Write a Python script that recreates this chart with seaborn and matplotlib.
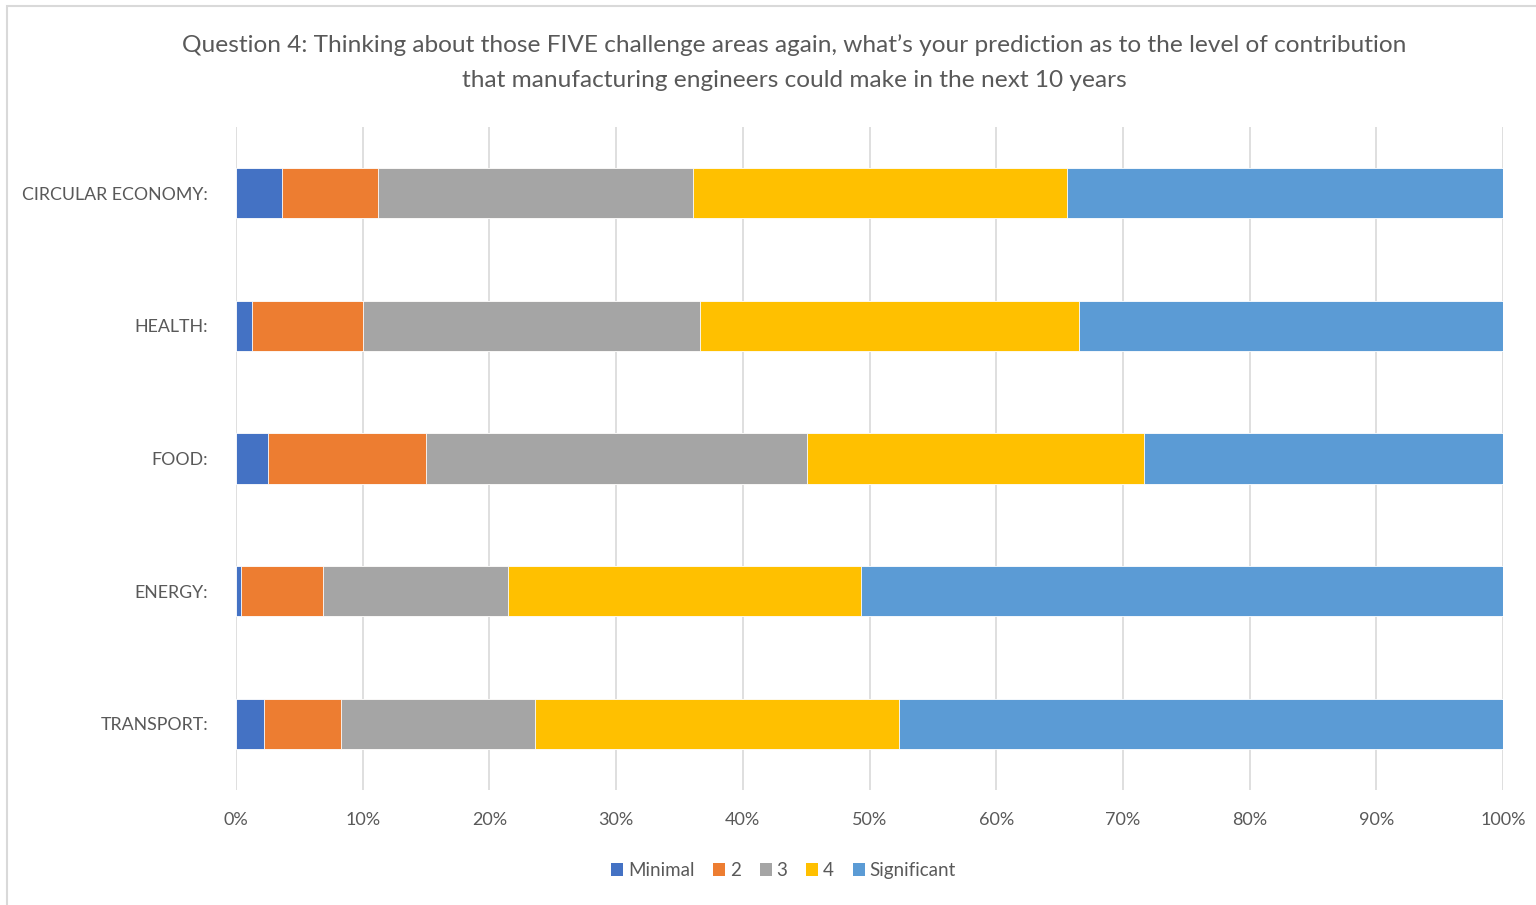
import matplotlib
matplotlib.use("Agg")
import matplotlib.pyplot as plt
from matplotlib.patches import Patch, Rectangle
from matplotlib.ticker import PercentFormatter, MultipleLocator
import numpy as np
import pandas as pd
import seaborn as sns

# Share of responses (%) per challenge area, by predicted contribution level
categories = ["CIRCULAR ECONOMY:", "HEALTH:", "FOOD:", "ENERGY:", "TRANSPORT:"]
levels = ["Minimal", "2", "3", "4", "Significant"]
minimal = [3.6, 1.3, 2.5, 0.4, 2.2]
level_2 = [7.6, 8.7, 12.5, 6.5, 6.1]
level_3 = [24.9, 26.6, 30.1, 14.6, 15.3]
level_4 = [29.5, 29.9, 26.6, 27.8, 28.7]
significant = [34.4, 33.5, 28.3, 50.7, 47.7]
colors = ["#4472C4", "#ED7D31", "#A5A5A5", "#FFC000", "#5B9BD5"]

title = ("Question 4: Thinking about those FIVE challenge areas again, what\u2019s your prediction as to the level of contribution\n"
         "that manufacturing engineers could make in the next 10 years")

sns.set_theme(style="white")
plt.rcParams["font.family"] = ["Lato", "DejaVu Sans"]
text_color = "#595959"

df = pd.DataFrame({"category": categories, "Minimal": minimal, "2": level_2,
                   "3": level_3, "4": level_4, "Significant": significant})
cum = df[levels].cumsum(axis=1)

fig = plt.figure(figsize=(15.36, 9.05), dpi=100)
ax = fig.add_axes([236 / 1536, 1 - 790 / 905, (1503 - 236) / 1536, (790 - 127) / 905])

# Stacked bars: draw cumulative totals from the widest down so each segment shows
for lvl, col in reversed(list(zip(levels, colors))):
    sns.barplot(data=cum.assign(category=categories), x=lvl, y="category",
                orient="h", color=col, width=0.38, saturation=1,
                edgecolor="white", linewidth=0.6, ax=ax, zorder=3)

ax.set_xlim(0, 100)
ax.set_ylim(4.5, -0.5)
ax.xaxis.set_major_locator(MultipleLocator(10))
ax.xaxis.set_major_formatter(PercentFormatter(decimals=0))
ax.grid(axis="x", color="#D9D9D9", linewidth=1.2, zorder=0)
ax.grid(axis="y", visible=False)
for s in ax.spines.values():
    s.set_visible(False)
ax.set_xlabel("")
ax.set_ylabel("")
ax.tick_params(axis="x", colors=text_color, labelsize=13, length=0, pad=16)
ax.tick_params(axis="y", colors=text_color, labelsize=12.8, length=0, pad=20)

fig.text(0.517, 0.962, title, ha="center", va="top", fontsize=17.6,
         color=text_color, linespacing=1.8)

handles = [Patch(facecolor=c, edgecolor="none", label=l) for l, c in zip(levels, colors)]
fig.legend(handles=handles, loc="center", bbox_to_anchor=(0.51, 0.038), ncol=5,
           frameon=False, fontsize=13.5, handlelength=0.65, handleheight=0.65,
           handletextpad=0.25, columnspacing=1.0, labelcolor=text_color)

# Outer chart frame
fig.patches.append(Rectangle((7 / 1536, -0.1), 1.2, 1.1 - 6 / 905, transform=fig.transFigure,
                             fill=False, edgecolor="#D9D9D9", linewidth=1.5))

fig.savefig("out.png", dpi=100, facecolor="white")
